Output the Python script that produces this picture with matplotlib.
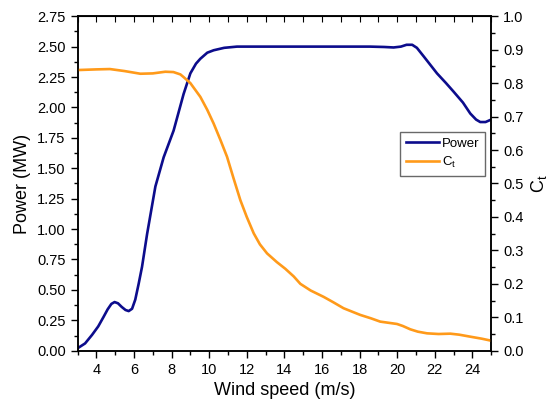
import numpy as np
import matplotlib
matplotlib.use("Agg")
import matplotlib.pyplot as plt
from matplotlib.ticker import MultipleLocator

plt.rcParams['font.family'] = ['Liberation Sans', 'DejaVu Sans']

# Power curve (MW)
wind_power = [3.0, 3.4, 3.77, 4.1, 4.39, 4.6, 4.8, 4.97, 5.15, 5.35, 5.55, 5.72,
              5.9, 6.07, 6.25, 6.43, 6.7, 7.14, 7.58, 8.11, 8.64, 9.0, 9.3,
              9.53, 9.9, 10.24, 10.8, 11.48, 12.5, 14.0, 16.0, 18.56, 19.3,
              19.81, 20.2, 20.5, 20.8, 21.05, 21.41, 22.12, 22.6, 23.0, 23.5,
              23.89, 24.2, 24.42, 24.7, 25.0]
power = [0.02, 0.06, 0.13, 0.20, 0.28, 0.34, 0.385, 0.40, 0.39, 0.36, 0.335, 0.326,
         0.345, 0.42, 0.55, 0.69, 0.96, 1.35, 1.59, 1.81, 2.11, 2.28, 2.36,
         2.40, 2.45, 2.47, 2.49, 2.50, 2.50, 2.50, 2.50, 2.50, 2.497,
         2.493, 2.50, 2.515, 2.515, 2.49, 2.42, 2.28, 2.20, 2.13, 2.04,
         1.95, 1.90, 1.88, 1.88, 1.90]

# Thrust coefficient
wind_ct = [3.0, 4.0, 4.72, 5.5, 6.34, 7.0, 7.67, 8.1, 8.47, 8.64, 9.0, 9.53,
           9.9, 10.24, 10.6, 10.95, 11.3, 11.66, 12.0, 12.37, 12.7, 13.08,
           13.6, 14.05, 14.5, 14.85, 15.4, 16.09, 16.6, 17.15, 18.04, 18.6,
           19.1, 19.99, 20.3, 20.7, 21.1, 21.59, 22.2, 22.83, 23.3, 23.89,
           24.5, 25.0]
ct = [0.839, 0.841, 0.842, 0.836, 0.828, 0.829, 0.834, 0.833, 0.826, 0.818, 0.80, 0.759,
      0.72, 0.679, 0.63, 0.58, 0.515, 0.45, 0.40, 0.351, 0.318, 0.291,
      0.265, 0.245, 0.222, 0.200, 0.18, 0.161, 0.145, 0.127, 0.107, 0.097,
      0.087, 0.080, 0.074, 0.064, 0.057, 0.052, 0.050, 0.051, 0.048, 0.042,
      0.036, 0.030]

fig = plt.figure(figsize=(5.5, 4.05), dpi=100)
ax = fig.add_axes([0.141, 0.134, 0.752, 0.826])
ax2 = ax.twinx()

navy = '#0c0c8c'
orange = '#ff9a1a'

l1, = ax.plot(wind_power, power, color=navy, lw=1.9, label='Power',
              solid_joinstyle='round')
l2, = ax2.plot(wind_ct, ct, color=orange, lw=1.9, label=r'$\mathregular{C_t}$',
               solid_joinstyle='round')

ax.set_xlim(3, 25)
ax.set_ylim(0, 2.75)
ax2.set_ylim(0, 1.0)

ax.xaxis.set_major_locator(MultipleLocator(2))
ax.xaxis.set_minor_locator(MultipleLocator(1))
ax.yaxis.set_major_locator(MultipleLocator(0.25))
ax.yaxis.set_minor_locator(MultipleLocator(0.125))
ax2.yaxis.set_major_locator(MultipleLocator(0.1))
ax2.yaxis.set_minor_locator(MultipleLocator(0.05))
ax.yaxis.set_major_formatter(plt.FormatStrFormatter('%.2f'))
ax2.yaxis.set_major_formatter(plt.FormatStrFormatter('%.1f'))

ax.tick_params(axis='both', which='major', direction='out', length=5, width=1,
               labelsize=10.5)
ax.tick_params(axis='both', which='minor', direction='out', length=3, width=1)
ax2.tick_params(axis='y', which='major', direction='out', length=5, width=1,
                labelsize=10.5)
ax2.tick_params(axis='y', which='minor', direction='out', length=3, width=1)

# top ticks point inward like the original
sec = ax.secondary_xaxis('top')
sec.xaxis.set_major_locator(MultipleLocator(1))
sec.tick_params(direction='in', length=4, labeltop=False)

for a in (ax, ax2):
    for s in a.spines.values():
        s.set_linewidth(1.1)

ax.set_xlabel('Wind speed (m/s)', fontsize=13)
ax.set_ylabel('Power (MW)', fontsize=13)
ax2.set_ylabel(r'$\mathregular{C_t}$', fontsize=13)

leg = ax.legend(handles=[l1, l2], loc='upper left', bbox_to_anchor=(0.78, 0.655),
                fontsize=9.5, frameon=True, fancybox=False, handlelength=2.5,
                handletextpad=0.2, borderpad=0.45, labelspacing=0.4,
                borderaxespad=0)
leg.get_frame().set_edgecolor('#444444')
leg.get_frame().set_linewidth(1.0)

fig.savefig('out.png', dpi=100)
